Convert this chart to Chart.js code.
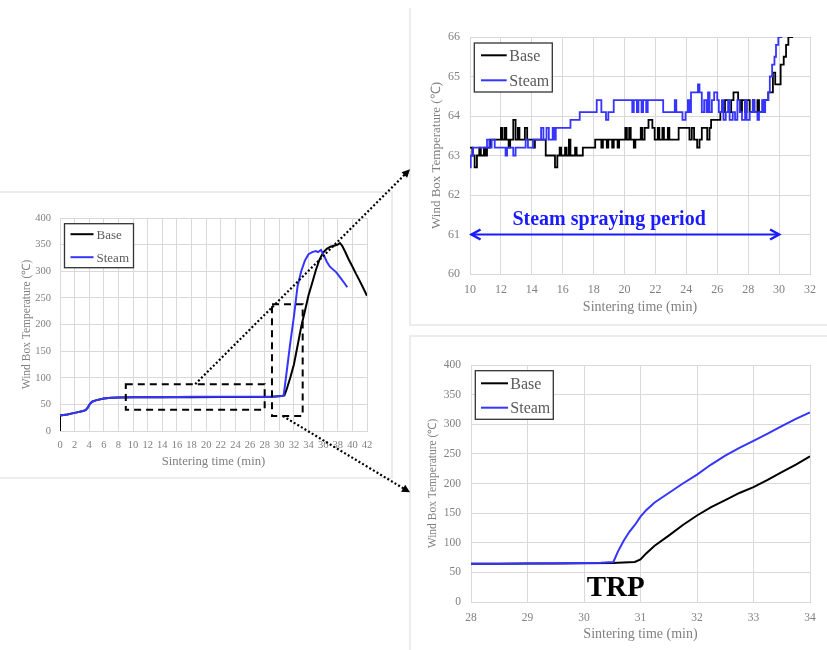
<!DOCTYPE html>
<html>
<head>
<meta charset="utf-8">
<script src="https://cdn.jsdelivr.net/npm/chart.js@4.4.1/dist/chart.umd.min.js"></script>
<style>
    body { margin: 0; background: #fff; }
    #page { position: relative; width: 827px; height: 650px; overflow: hidden; background: #fff; }
    .panel { position: absolute; border: 0 solid #ececec; }
    canvas { position: absolute; }
</style>
</head>
<body>
<div id="page">
    <div class="panel" style="left:-2px; top:191px; width:393px; height:284px; border-width:2px 2px 2px 0;"></div>
    <div class="panel" style="left:409px; top:8px; width:430px; height:316px; border-width:0 0 2px 2px;"></div>
    <div class="panel" style="left:409px; top:335px; width:430px; height:330px; border-width:2px 0 0 2px;"></div>
    <canvas id="sprayChart" width="417" height="330" style="left:410px; top:0;"></canvas>
    <canvas id="trpChart" width="417" height="315" style="left:410px; top:335px;"></canvas>
    <canvas id="overviewChart" width="420" height="650" style="left:0; top:0;"></canvas>
</div>

<script>
    // Whole run, 0-42 min
    const overviewBaseTime = [0, 0, 0.5, 1, 2, 3, 3.5, 3.8, 4.1, 4.4, 5, 6, 7, 8, 10, 14, 18, 22, 26, 29, 30.3, 30.7, 31.0, 31.5, 32.0, 32.5, 33.0, 33.5, 34.0, 34.5, 35.0, 35.5, 36.0, 36.5, 37.0, 37.5, 38.0, 38.3, 38.6, 39.0, 39.5, 40.0, 40.5, 41.0, 41.5, 42.0];
    const overviewBaseTemp = [0, 29, 30, 31, 34, 37, 39, 44, 51, 55, 58, 61, 62.5, 63, 63.2, 63.2, 63.4, 63.7, 64, 64.4, 65.5, 67, 78, 100, 125, 160, 196, 225, 255, 278, 302, 322, 335, 342, 346, 348, 350, 353, 348, 337, 322, 309, 295, 282, 268, 254];
    const overviewSteamTime = [0, 0.5, 1, 2, 3, 3.5, 3.8, 4.1, 4.4, 5, 6, 7, 8, 10, 14, 18, 22, 26, 29, 30.3, 30.6, 31.0, 31.5, 32.0, 32.5, 33.0, 33.5, 34.0, 34.5, 35.0, 35.3, 35.7, 36.1, 36.5, 36.9, 37.3, 37.8, 38.4, 38.9, 39.3];
    const overviewSteamTemp = [29, 30, 31, 34, 37, 39, 44, 51, 55, 58, 61, 62.5, 63, 63.2, 63.4, 64.1, 64.4, 64.4, 64.4, 65.5, 67, 110, 165, 215, 272, 300, 320, 332, 336, 338, 336, 340, 330, 318, 309, 304, 298, 287, 278, 270];

    // Steam spraying period, 10-32 min
    const steamSprayTime = [10.0, 10.05, 10.2, 11.1, 11.25, 11.4, 11.6, 12.3, 12.4, 12.8, 12.95, 13.6, 13.75, 14.1, 14.6, 14.75, 14.95, 15.1, 15.35, 15.45, 15.55, 16.5, 17.1, 18.2, 18.5, 18.8, 18.95, 19.3, 20.5, 20.6, 20.8, 20.9, 21.1, 21.2, 21.4, 21.5, 22.5, 23.25, 23.35, 23.75, 23.95, 24.1, 24.2, 24.3, 24.75, 24.85, 25.0, 25.15, 25.3, 25.4, 25.5, 25.65, 25.8, 26.0, 26.1, 26.3, 26.4, 26.55, 26.7, 26.8, 27.0, 27.15, 27.3, 27.45, 27.6, 27.8, 27.9, 28.1, 28.3, 28.4, 28.6, 28.7, 28.9, 29.0, 29.1, 29.3, 29.4, 29.55, 29.7, 29.8, 29.95, 30.15];
    const steamSprayTemp = [62.7, 63.0, 63.2, 63.4, 63.2, 63.4, 63.2, 63.0, 63.2, 63.0, 63.2, 63.4, 63.2, 63.4, 63.7, 63.4, 63.7, 63.4, 63.7, 63.4, 63.7, 63.9, 64.1, 64.4, 64.1, 63.9, 64.1, 64.4, 64.1, 64.4, 64.1, 64.4, 64.1, 64.4, 64.1, 64.4, 64.1, 64.4, 64.1, 63.9, 64.1, 64.4, 64.1, 64.6, 64.8, 64.6, 64.1, 64.4, 64.1, 64.6, 64.1, 64.4, 64.6, 64.4, 64.1, 64.4, 63.9, 64.1, 64.4, 63.9, 64.1, 63.9, 64.4, 64.1, 63.9, 64.4, 63.9, 64.1, 64.4, 64.1, 63.9, 64.1, 64.4, 64.1, 64.4, 64.6, 65.0, 65.3, 65.5, 65.8, 66.0, 66.6];
    const baseSprayTime = [10.0, 10.15, 10.3, 10.45, 10.6, 10.7, 10.9, 11.0, 11.1, 11.3, 12.0, 12.1, 12.25, 12.35, 12.5, 12.6, 12.8, 12.95, 13.1, 13.2, 13.45, 13.55, 13.7, 14.1, 14.2, 14.9, 15.5, 15.65, 15.8, 15.9, 16.15, 16.25, 16.4, 16.5, 16.8, 16.9, 17.3, 18.1, 18.5, 18.6, 18.85, 18.95, 19.2, 19.3, 19.55, 19.65, 20.05, 20.15, 20.3, 20.4, 20.6, 20.7, 21.05, 21.15, 21.3, 21.55, 21.8, 21.95, 22.15, 22.25, 22.45, 22.55, 22.8, 22.9, 23.5, 24.2, 24.35, 24.5, 24.7, 24.85, 25.0, 25.35, 25.5, 25.6, 26.2, 26.5, 26.75, 26.9, 27.05, 27.35, 27.5, 27.6, 27.8, 27.9, 28.1, 28.3, 28.4, 28.6, 28.7, 29.0, 29.3, 29.6, 29.75, 30.1, 30.3, 30.45, 30.6, 30.85];
    const baseSprayTemp = [63.2, 63.0, 62.7, 63.0, 63.2, 63.0, 63.2, 63.0, 63.2, 63.4, 63.7, 63.4, 63.7, 63.4, 63.2, 63.4, 63.9, 63.4, 63.7, 63.4, 63.4, 63.7, 63.4, 63.2, 63.4, 63.0, 62.7, 63.0, 63.2, 63.0, 63.2, 63.0, 63.4, 63.0, 63.2, 63.0, 63.2, 63.4, 63.2, 63.4, 63.2, 63.4, 63.2, 63.4, 63.2, 63.4, 63.7, 63.4, 63.7, 63.4, 63.2, 63.4, 63.7, 63.4, 63.7, 63.9, 63.7, 63.4, 63.7, 63.4, 63.7, 63.4, 63.7, 63.4, 63.7, 63.4, 63.7, 63.4, 63.2, 63.4, 63.7, 63.4, 63.7, 63.9, 64.1, 64.4, 64.1, 64.4, 64.6, 64.4, 64.1, 64.4, 64.1, 64.4, 64.1, 64.4, 64.1, 64.4, 64.1, 64.4, 64.6, 65.1, 64.8, 65.3, 65.5, 65.8, 66.0, 66.6];

    // Around the TRP, 28-34 min
    const trpBaseTime = [28, 28.5, 29, 29.5, 30, 30.5, 30.9, 31.0, 31.1, 31.25, 31.5, 31.75, 32, 32.25, 32.5, 32.75, 33, 33.25, 33.5, 33.75, 34];
    const trpBaseTemp = [64.5, 64.6, 64.8, 65, 65.3, 65.8, 67.6, 72, 82, 95, 112, 130, 146, 160, 172, 184, 194, 206, 219, 232, 246];
    const trpSteamTime = [28, 28.5, 29, 29.5, 30, 30.3, 30.52, 30.6, 30.7, 30.8, 30.9, 31.0, 31.1, 31.25, 31.5, 31.75, 32, 32.25, 32.5, 32.75, 33, 33.25, 33.5, 33.75, 34];
    const trpSteamTemp = [64.5, 64.7, 65, 65.3, 65.8, 66.3, 67.5, 85, 103, 118, 130, 144, 155, 168, 184, 200, 215, 232, 247, 260, 272, 284, 297, 309, 320];

    // zoomed regions marked on the overview (min, degC)
    const zoomBoxes = [
        { from: 9, to: 28, low: 40, high: 88 },
        { from: 29, to: 33.2, low: 28, high: 238 }
    ];

    const serif = "'Liberation Serif', 'Times New Roman', serif";
    const gray = '#808080';
    const gridGray = '#d9d9d9';
    const baseColor = '#000000';
    const steamColor = '#3535ff';

    Chart.defaults.font.family = serif;
    Chart.defaults.color = gray;
    Chart.defaults.animation = false;

    const toPoints = (xs, ys) => xs.map((x, i) => ({ x: x, y: ys[i] }));

    function makeScale(title, min, max, step, o) {
        return {
            type: 'linear',
            min: min,
            max: max,
            grid: { color: gridGray, drawTicks: false },
            border: { color: gridGray },
            ticks: { stepSize: step, padding: o.pad, autoSkip: false, maxRotation: 0, color: gray, font: { size: o.tick } },
            title: { display: true, text: title, color: gray, font: { size: o.title } },
            afterFit: (s) => { if (s.isHorizontal()) { s.height = o.fit; } else { s.width = o.fit; } }
        };
    }

    function makeDatasets(base, steam, width, stepped) {
        return [
            { label: 'Base', data: base, borderColor: baseColor, borderWidth: width, pointRadius: 0, tension: 0, stepped: stepped, order: 1 },
            { label: 'Steam', data: steam, borderColor: steamColor, borderWidth: width, pointRadius: 0, tension: 0, stepped: stepped, order: 0 }
        ];
    }

    // framed legend drawn inside the plot
    const boxLegend = {
        id: 'boxLegend',
        afterDatasetsDraw(chart, args, o) {
            const { ctx, chartArea } = chart;
            const left = chartArea.left + o.dx;
            const top = chartArea.top + o.dy;
            ctx.save();
            ctx.fillStyle = '#fff';
            ctx.fillRect(left, top, o.w, o.h);
            ctx.strokeStyle = '#333';
            ctx.lineWidth = 1.3;
            ctx.strokeRect(left, top, o.w, o.h);
            ctx.font = o.size + 'px ' + serif;
            ctx.textBaseline = 'middle';
            chart.data.datasets.forEach((ds, i) => {
                const rowY = top + o.rows[i];
                ctx.strokeStyle = ds.borderColor;
                ctx.lineWidth = 2;
                ctx.beginPath();
                ctx.moveTo(left + o.lineFrom, rowY);
                ctx.lineTo(left + o.lineTo, rowY);
                ctx.stroke();
                ctx.fillStyle = '#5a5a5a';
                ctx.fillText(ds.label, left + o.textX, rowY + 1);
            });
            ctx.restore();
        }
    };

    function arrowHead(ctx, x, y, ang, len, half, filled) {
        const bx = x - len * Math.cos(ang), by = y - len * Math.sin(ang);
        ctx.beginPath();
        ctx.moveTo(bx + half * Math.sin(ang), by - half * Math.cos(ang));
        ctx.lineTo(x, y);
        ctx.lineTo(bx - half * Math.sin(ang), by + half * Math.cos(ang));
        if (filled) { ctx.closePath(); ctx.fill(); } else { ctx.stroke(); }
    }

    // dashed zoom boxes + dotted links to the right-hand plots
    const zoomMarks = {
        id: 'zoomMarks',
        afterDatasetsDraw(chart) {
            const { ctx, scales: { x, y } } = chart;
            ctx.save();
            ctx.strokeStyle = '#000';
            ctx.lineWidth = 2;
            ctx.setLineDash([7, 5]);
            zoomBoxes.forEach(b => {
                const l = x.getPixelForValue(b.from), r = x.getPixelForValue(b.to);
                const t = y.getPixelForValue(b.high), btm = y.getPixelForValue(b.low);
                ctx.strokeRect(l, t, r - l, btm - t);
            });

            const tipX = chart.width - 10;
            const links = [
                { sx: x.getPixelForValue(18.5), sy: y.getPixelForValue(zoomBoxes[0].high), slope: -1 },
                { sx: x.getPixelForValue(30.5), sy: y.getPixelForValue(zoomBoxes[1].low), slope: 0.6 }
            ];
            ctx.fillStyle = '#000';
            links.forEach(k => {
                const ty = k.sy + (tipX - k.sx) * k.slope;
                const ang = Math.atan2(ty - k.sy, tipX - k.sx);
                ctx.setLineDash([2, 2.2]);
                ctx.lineWidth = 2.2;
                ctx.beginPath();
                ctx.moveTo(k.sx, k.sy);
                ctx.lineTo(tipX - 6 * Math.cos(ang), ty - 6 * Math.sin(ang));
                ctx.stroke();
                ctx.setLineDash([]);
                arrowHead(ctx, tipX, ty, ang, 8, 4, true);
            });
            ctx.restore();
        }
    };

    // "Steam spraying period" arrow
    const sprayNote = {
        id: 'sprayNote',
        afterDatasetsDraw(chart) {
            const { ctx, scales: { x, y } } = chart;
            const l = x.getPixelForValue(10.1), r = x.getPixelForValue(30), ay = y.getPixelForValue(61);
            ctx.save();
            ctx.strokeStyle = '#1a1aff';
            ctx.lineWidth = 2;
            ctx.beginPath();
            ctx.moveTo(l, ay);
            ctx.lineTo(r, ay);
            ctx.stroke();
            ctx.lineWidth = 2.5;
            arrowHead(ctx, l, ay, Math.PI, 9, 5, false);
            arrowHead(ctx, r, ay, 0, 9, 5, false);
            ctx.fillStyle = '#1a1aff';
            ctx.font = 'bold 20px ' + serif;
            ctx.textAlign = 'center';
            ctx.textBaseline = 'middle';
            ctx.fillText('Steam spraying period', x.getPixelForValue(19), y.getPixelForValue(61.37));
            ctx.restore();
        }
    };

    // TRP label
    const trpNote = {
        id: 'trpNote',
        afterDatasetsDraw(chart) {
            const { ctx, scales: { x, y } } = chart;
            ctx.save();
            ctx.fillStyle = '#000';
            ctx.font = 'bold 29px ' + serif;
            ctx.textAlign = 'center';
            ctx.textBaseline = 'middle';
            ctx.fillText('TRP', x.getPixelForValue(30.56), y.getPixelForValue(22));
            ctx.restore();
        }
    };

    // Overview Chart
    new Chart(document.getElementById('overviewChart').getContext('2d'), {
        type: 'line',
        data: { datasets: makeDatasets(toPoints(overviewBaseTime, overviewBaseTemp), toPoints(overviewSteamTime, overviewSteamTemp), 2, false) },
        options: {
            responsive: false,
            layout: { padding: { left: 16, right: 53, top: 218, bottom: 177 } },
            plugins: {
                legend: { display: false },
                tooltip: { enabled: false },
                boxLegend: { dx: 4.5, dy: 5.7, w: 69, h: 44, size: 13, lineFrom: 6, lineTo: 29, textX: 32, rows: [10.5, 33.5] }
            },
            scales: {
                x: makeScale('Sintering time (min)', 0, 42, 2, { tick: 10.5, title: 12.7, pad: 8, fit: 42 }),
                y: makeScale('Wind Box Temperature (\u2103)', 0, 400, 50, { tick: 10.5, title: 11.5, pad: 9, fit: 44 })
            }
        },
        plugins: [boxLegend, zoomMarks]
    });

    // Steam Spraying Chart
    new Chart(document.getElementById('sprayChart').getContext('2d'), {
        type: 'line',
        data: { datasets: makeDatasets(toPoints(baseSprayTime, baseSprayTemp), toPoints(steamSprayTime, steamSprayTemp), 1.8, true) },
        options: {
            responsive: false,
            layout: { padding: { left: 15, right: 17, top: 37, bottom: 10 } },
            plugins: {
                legend: { display: false },
                tooltip: { enabled: false },
                boxLegend: { dx: 4.3, dy: 6, w: 78, h: 49, size: 16, lineFrom: 6.7, lineTo: 32.4, textX: 35, rows: [12.3, 37.3] }
            },
            scales: {
                x: makeScale('Sintering time (min)', 10, 32, 2, { tick: 12, title: 14, pad: 9, fit: 46 }),
                y: makeScale('Wind Box Temperature (\u2103)', 60, 66, 1, { tick: 12, title: 13, pad: 10, fit: 45 })
            }
        },
        plugins: [boxLegend, sprayNote]
    });

    // TRP Chart
    new Chart(document.getElementById('trpChart').getContext('2d'), {
        type: 'line',
        data: { datasets: makeDatasets(toPoints(trpBaseTime, trpBaseTemp), toPoints(trpSteamTime, trpSteamTemp), 2, false) },
        options: {
            responsive: false,
            layout: { padding: { left: 12, right: 17, top: 30, bottom: 3 } },
            plugins: {
                legend: { display: false },
                tooltip: { enabled: false },
                boxLegend: { dx: 4.3, dy: 5.7, w: 78, h: 48.6, size: 16, lineFrom: 5.7, lineTo: 32.7, textX: 35, rows: [12.6, 37] }
            },
            scales: {
                x: makeScale('Sintering time (min)', 28, 34, 1, { tick: 11.5, title: 14, pad: 9, fit: 45 }),
                y: makeScale('Wind Box Temperature (\u2103)', 0, 400, 50, { tick: 11.5, title: 11.5, pad: 10, fit: 49 })
            }
        },
        plugins: [boxLegend, trpNote]
    });
</script>
</body>
</html>
